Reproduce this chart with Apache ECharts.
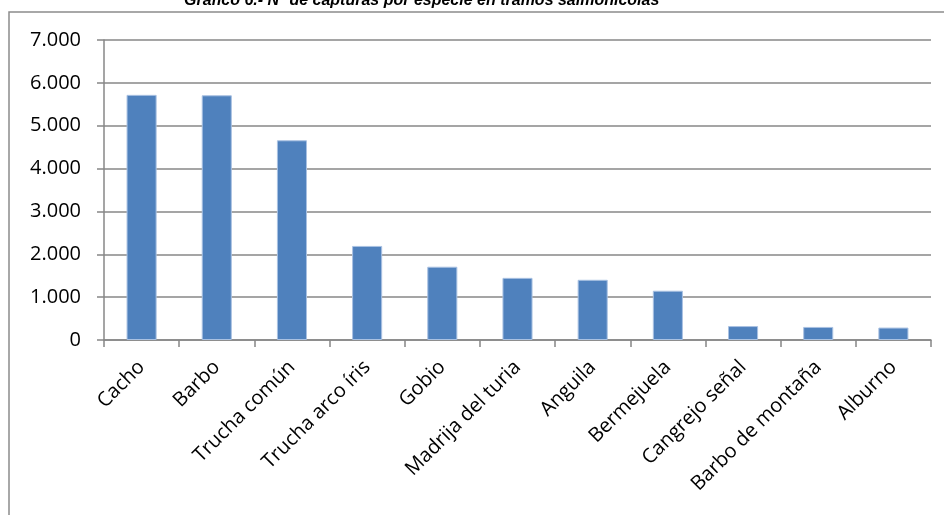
<!DOCTYPE html>
<html>
<head>
<meta charset="utf-8">
<script src="https://cdn.jsdelivr.net/npm/echarts@6/dist/echarts.min.js"></script>
<style>
  html, body { margin: 0; padding: 0; background: #ffffff; }
  #chart { width: 944px; height: 515px; }
</style>
</head>
<body>
<div id="chart"></div>
<script>
// Catches per species in salmonid river stretches
const titleText = 'Gráfico 6.- Nº de capturas por especie en tramos salmonícolas';
const species = ['Cacho', 'Barbo', 'Trucha común', 'Trucha arco íris', 'Gobio',
  'Madrija del turia', 'Anguila', 'Bermejuela', 'Cangrejo señal', 'Barbo de montaña', 'Alburno'];
const captures = [5720, 5710, 4660, 2195, 1710, 1450, 1405, 1150, 325, 305, 290];
const yTicks = [0, 1000, 2000, 3000, 4000, 5000, 6000, 7000];

const gray = '#878787';
const labelFont = '"Open Sans", sans-serif';

const chart = echarts.init(document.getElementById('chart'), null, { renderer: 'canvas' });

chart.setOption({
  animation: false,
  backgroundColor: '#ffffff',
  title: {
    text: titleText,
    left: 184,
    top: -7,
    padding: 0,
    textStyle: {
      fontFamily: '"Liberation Sans", Arial, sans-serif',
      fontStyle: 'italic',
      fontWeight: 'bold',
      fontSize: 16,
      color: '#000000'
    }
  },
  graphic: [{
    type: 'rect',
    z: -1,
    shape: { x: 9, y: 12, width: 1000, height: 600 },
    style: { fill: null, stroke: '#8c8c8c', lineWidth: 1.5 },
    silent: true
  }],
  grid: { left: 104, right: 13, top: 40, bottom: 175, containLabel: false },
  xAxis: {
    type: 'category',
    data: species,
    axisLine: { show: true, lineStyle: { color: gray, width: 1.5 } },
    axisTick: { show: true, length: 7, alignWithLabel: false, lineStyle: { color: gray, width: 1.5 } },
    axisLabel: {
      interval: 0,
      rotate: 45,
      margin: 24,
      fontFamily: labelFont,
      fontSize: 20,
      color: '#000000'
    }
  },
  yAxis: {
    type: 'value',
    min: yTicks[0],
    max: yTicks[yTicks.length - 1],
    interval: yTicks[1] - yTicks[0],
    axisLine: { show: true, lineStyle: { color: gray, width: 1.5 } },
    axisTick: { show: true, length: 7, lineStyle: { color: gray, width: 1.5 } },
    splitLine: { show: true, lineStyle: { color: gray, width: 1.5 } },
    axisLabel: {
      margin: 23,
      fontFamily: labelFont,
      fontSize: 20,
      color: '#000000',
      formatter: v => v.toString().replace(/\B(?=(\d{3})+(?!\d))/g, '.')
    }
  },
  series: [{
    type: 'bar',
    data: captures,
    barWidth: '40%',
    itemStyle: { color: '#4F81BD', borderColor: '#a9c1e2', borderWidth: 1 }
  }]
});
</script>
</body>
</html>
